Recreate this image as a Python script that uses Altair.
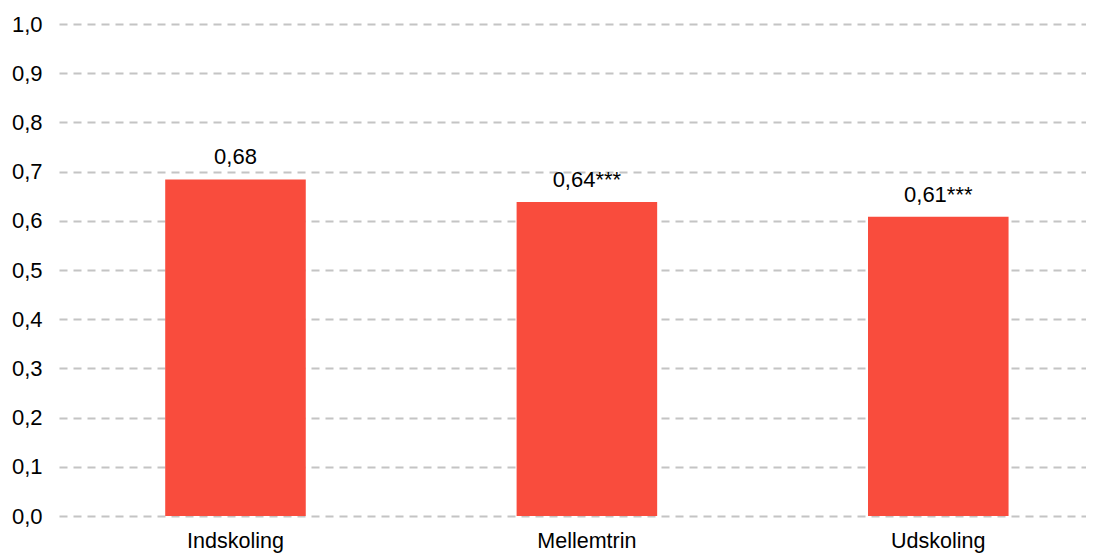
import altair as alt
import pandas as pd

categories = ["Indskoling", "Mellemtrin", "Udskoling"]
values = [0.684, 0.638, 0.608]
labels = ["0,68", "0,64***", "0,61***"]

df = pd.DataFrame({"cat": categories, "val": values, "lab": labels})

x = alt.X("cat:N", sort=categories, title=None,
          scale=alt.Scale(paddingInner=0.6, paddingOuter=0.267, align=0.566),
          axis=alt.Axis(labelAngle=0, domain=False, ticks=False, labelPadding=14,
                        labelFontSize=21.5, labelFont="Liberation Sans", labelColor="#000000",
                        grid=False))
y = alt.Y("val:Q", title=None,
          scale=alt.Scale(domain=[0, 1], nice=False),
          axis=alt.Axis(values=[i / 10 for i in range(11)], domain=False, ticks=False,
                        labelPadding=17, labelFontSize=22, labelFont="Liberation Sans",
                        labelColor="#000000",
                        labelExpr="replace(format(datum.value, '.1f'), '.', ',')",
                        grid=True, gridColor="#c4c4c4", gridWidth=2, gridDash=[8, 6]))

bars = alt.Chart(df).mark_bar(color="#f94c3d").encode(x=x, y=y)
text = alt.Chart(df).mark_text(baseline="alphabetic", dy=-15, fontSize=22,
                               font="Liberation Sans", color="#000000").encode(
    x=alt.X("cat:N", sort=categories), y="val:Q", text="lab:N")

chart = (bars + text).properties(
    width=1031, height=492,
    autosize=alt.AutoSizeParams(type="none"),
    padding={"left": 51, "top": 16, "right": -4, "bottom": 37},
    background="white",
).configure_view(strokeWidth=0)

chart.save("out.html", embed_options={"renderer": "svg", "actions": False})
